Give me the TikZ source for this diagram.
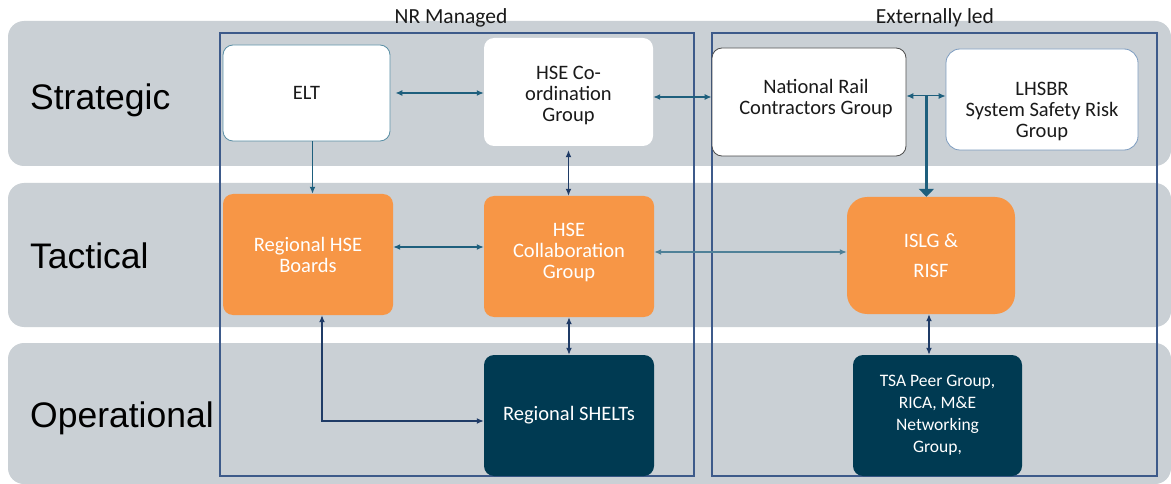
\documentclass[tikz,border=0pt]{standalone}
\usepackage{fontspec}
\setmainfont{Carlito}
\newfontfamily\tierfont{Liberation Sans}
\usetikzlibrary{arrows.meta,calc}

\definecolor{band}{HTML}{CAD0D5}
\definecolor{frame}{HTML}{3D5A8A}
\definecolor{nrorange}{HTML}{F79646}
\definecolor{nrdark}{HTML}{003A52}
\definecolor{tealline}{HTML}{1E5F7D}
\definecolor{navyline}{HTML}{1F3B66}
\definecolor{lightteal}{HTML}{4F8198}
\definecolor{eltedge}{HTML}{5A8FA5}
\definecolor{lhsedge}{HTML}{7D9CC0}
\definecolor{greyedge}{HTML}{4D4D4D}
\definecolor{inktext}{HTML}{1A1A1A}

\begin{document}
\begin{tikzpicture}[x=1pt,y=-1pt,
  bandbox/.style={fill=band, draw=none, rounded corners=16pt},
  zone/.style={draw=frame, line width=1.8pt},
  zonelabel/.style={font=\fontsize{21.5}{24}\selectfont, text=inktext, inner sep=0pt, anchor=base},
  tier/.style={font=\tierfont\fontsize{35.5}{40}\selectfont, anchor=base west, text=black, inner sep=0pt},
  box/.style={rounded corners=10pt, align=center, inner sep=0pt, font=\fontsize{20.5}{21}\selectfont},
  whitebox/.style={box, fill=white, text=inktext},
  orangebox/.style={box, fill=nrorange, text=white},
  darkbox/.style={box, fill=nrdark, text=white},
  boxlabel/.style={align=center, inner sep=0pt, text=inktext, font=\fontsize{20.5}{21}\selectfont},
  tip/.tip={Latex[length=7pt,width=6pt]},
  link/.style={draw=tealline, line width=1.3pt, tip-tip},
  navylink/.style={draw=navyline, line width=1.3pt, tip-tip},
  downlink/.style={draw=tealline, line width=1.8pt, -tip},
  feed/.style={draw=tealline, line width=2.6pt, -{Triangle[length=8pt,width=15pt]}}
]
\clip (0,0) rectangle (1171,484);
\fill[white] (0,0) rectangle (1171,484);

% tier bands
\path[bandbox] (8,21) rectangle (1171,166);
\path[bandbox] (8,183) rectangle (1171,327);
\path[bandbox] (8,343) rectangle (1171,484);

% tier names
\node[tier] (strategic) at (30,109.5) {Strategic};
\node[tier] (tactical) at (30,268) {Tactical};
\node[tier] (operational) at (30,427) {Operational};

% ownership frames
\draw[zone] (220,33) rectangle (694,476);
\draw[zone] (712,33) rectangle (1157,476);
\node[zonelabel] (nrlabel) at (451,24) {NR Managed};
\node[zonelabel] (extlabel) at (935,23.5) {Externally led};

% strategic groups
\node[whitebox, draw=eltedge, line width=0.8pt, minimum width=167pt, minimum height=96pt] (elt) at (306.5,93) {ELT};
\node[whitebox, minimum width=169pt, minimum height=108pt,
      label={[boxlabel, yshift=-4pt]center:{HSE Co-\\ordination\\Group}}] (coord) at (568.5,92) {};
\node[whitebox, draw=greyedge, line width=0.8pt, minimum width=194pt, minimum height=108pt,
      label={[boxlabel, xshift=7pt, yshift=3pt]center:{National Rail\\Contractors Group}}] (nrcg) at (809,102) {};
\node[whitebox, draw=lhsedge, line width=0.8pt, rounded corners=14pt, minimum width=192pt, minimum height=101pt,
      label={[boxlabel, yshift=-12pt]center:{LHSBR\\System Safety Risk\\Group}}] (lhsbr) at (1042,99.5) {};

% tactical groups
\node[orangebox, minimum width=170pt, minimum height=121pt] (boards) at (308,254.5) {Regional HSE\\Boards};
\node[orangebox, minimum width=170pt, minimum height=121pt,
      label={[boxlabel, text=white, yshift=4pt]center:{HSE\\Collaboration\\Group}}] (collab) at (569,256.5) {};
\node[orangebox, rounded corners=20pt, minimum width=168pt, minimum height=117pt,
      font=\fontsize{20.5}{30}\selectfont] (islg) at (931,255.5) {ISLG \&\\RISF};

% operational groups
\node[darkbox, minimum width=170pt, minimum height=121pt] (shelts) at (569,415.5) {Regional SHELTs};
\node[darkbox, minimum width=169pt, minimum height=121pt,
      font=\fontsize{17.5}{22}\selectfont] (tsa) at (937.5,415.5) {TSA Peer Group,\\RICA, M\&E\\Networking\\Group,};

% connections
\draw[link, shorten <=5pt] (elt.east) -- (elt.east -| coord.west);
\draw[link] ([yshift=-5pt]coord.east) -- ([yshift=-5pt]coord.east -| nrcg.west);
\draw[link, line width=1pt] ([yshift=6pt]nrcg.east) -- ([yshift=6pt]nrcg.east -| lhsbr.west);
\coordinate (split) at ([xshift=20pt,yshift=6pt]nrcg.east);
\draw[feed] (split) -- (split |- islg.north);
\draw[downlink] ([xshift=6pt]elt.south) -- ([xshift=6pt]elt.south |- boards.north);
\draw[navylink, shorten <=4pt] (coord.south) -- (coord.south |- collab.north);
\draw[link] ([yshift=7.5pt]boards.east) -- ([yshift=7.5pt]boards.east -| collab.west);
\draw[link, draw=lightteal] ([yshift=4.5pt]collab.east) -- ([yshift=4.5pt]collab.east -| islg.west);
\draw[navylink] (collab.south) -- (collab.south |- shelts.north);
\draw[navylink] ([xshift=14pt]boards.south) |- ([yshift=-5.5pt]shelts.west);
\draw[navylink] ([xshift=-2pt]islg.south) -- ([xshift=-2pt]islg.south |- tsa.north);
\end{tikzpicture}
\end{document}
